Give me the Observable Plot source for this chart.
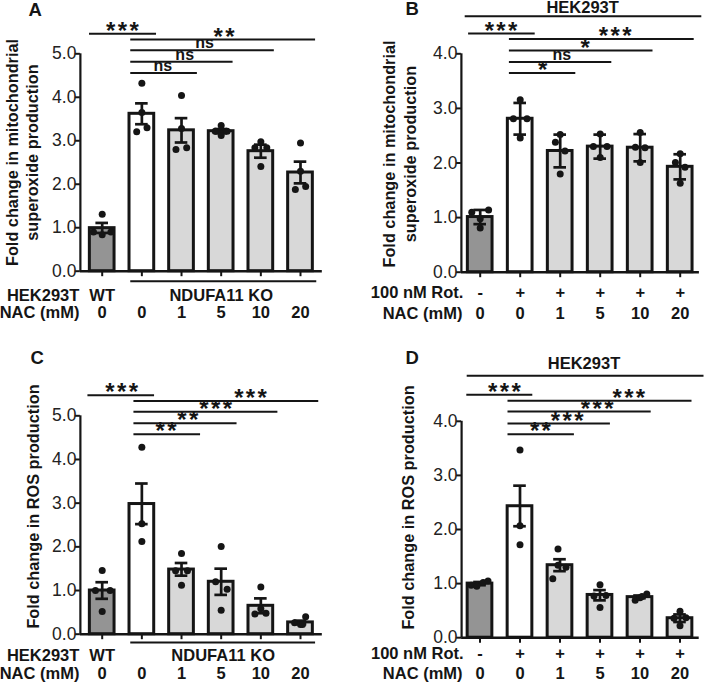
<!DOCTYPE html>
<html>
<head>
<meta charset="utf-8">
<script src="https://cdn.jsdelivr.net/npm/d3@7"></script>
<script src="https://cdn.jsdelivr.net/npm/@observablehq/plot@0.6"></script>
<style>
  body { margin: 0; background: #fff; }
  #fig { position: relative; width: 710px; height: 684px; overflow: hidden; background: #fff; }
  #fig > svg { position: absolute; }
</style>
</head>
<body>
<div id="fig"></div>
<script>
// ================= DATA =================
const nacDose   = ["0", "0", "1", "5", "10", "20"];
const genotype  = ["WT", "NDUFA11 KO"];
const rotenone  = ["-", "+", "+", "+", "+", "+"];
const ticksAC   = [0, 1, 2, 3, 4, 5];
const ticksBD   = [0, 1, 2, 3, 4];
const yLabelSup = "Fold change in mitochondrial\nsuperoxide production";
const yLabelRos = "Fold change in ROS production";
const cellLine  = "HEK293T";
const nacLabel  = "NAC (mM)";
const rotLabel  = "100 nM Rot.";

// A: mitochondrial superoxide, NDUFA11 KO + NAC
const supKO_mean = [0.99, 3.62, 3.24, 3.22, 2.76, 2.27];
const supKO_low  = [0.88, 3.38, 2.96, 3.17, 2.61, 2.02];
const supKO_high = [1.11, 3.86, 3.52, 3.27, 2.91, 2.52];
const supKO_pts  = [[1.31, 0.90, 0.84, 0.90], [4.32, 3.21, 3.30, 3.65], [4.04, 2.80, 2.84, 3.28],
                    [3.35, 3.22, 3.22, 3.12], [2.98, 2.84, 2.84, 2.41], [2.95, 1.88, 1.95, 2.30]];
const supKO_sig  = [[0, 1, "***"], [1, 5, "**"], [1, 4, "ns"], [1, 3, "ns"], [1, 2, "ns"]];

// B: mitochondrial superoxide, HEK293T + rotenone + NAC
const supRot_mean = [1.01, 2.81, 2.22, 2.30, 2.28, 1.93];
const supRot_low  = [0.88, 2.52, 1.92, 2.08, 2.03, 1.70];
const supRot_high = [1.14, 3.10, 2.52, 2.52, 2.53, 2.16];
const supRot_pts  = [[1.10, 1.14, 0.81, 0.98], [3.16, 2.81, 2.81, 2.46], [2.52, 2.38, 2.22, 1.80],
                     [2.53, 2.30, 2.30, 2.10], [2.56, 2.29, 2.28, 2.01], [2.17, 2.01, 1.92, 1.63]];
const supRot_sig  = [[0, 1, "***"], [1, 5, "***"], [1, 4, "*"], [1, 3, "ns"], [1, 2, "*"]];

// C: ROS, NDUFA11 KO + NAC
const rosKO_mean = [1.00, 2.98, 1.48, 1.20, 0.65, 0.27];
const rosKO_low  = [0.81, 2.52, 1.34, 0.90, 0.48, 0.23];
const rosKO_high = [1.19, 3.45, 1.63, 1.50, 0.82, 0.31];
const rosKO_pts  = [[1.46, 1.00, 1.00, 0.52], [4.28, 2.53, 2.12], [1.85, 1.45, 1.45, 1.12],
                    [2.01, 1.20, 1.03, 0.55], [1.08, 0.46, 0.48, 0.58], [0.40, 0.26, 0.22, 0.22]];
const rosKO_sig  = [[0, 1, "***"], [1, 5, "***"], [1, 4, "***"], [1, 3, "**"], [1, 2, "**"]];

// D: ROS, HEK293T + rotenone + NAC
const rosRot_mean = [1.00, 2.43, 1.34, 0.79, 0.75, 0.36];
const rosRot_low  = [0.97, 2.06, 1.23, 0.69, 0.73, 0.29];
const rosRot_high = [1.03, 2.81, 1.45, 0.88, 0.78, 0.43];
const rosRot_pts  = [[0.97, 0.95, 1.02, 1.05], [3.47, 2.07, 1.72], [1.64, 1.30, 1.34, 1.09],
                     [0.98, 0.77, 0.78, 0.56], [0.69, 0.81, 0.74, 0.76], [0.49, 0.22, 0.36, 0.37]];
const rosRot_sig  = [[0, 1, "***"], [1, 5, "***"], [1, 4, "***"], [1, 3, "***"], [1, 2, "**"]];

// ================= LAYOUT (positions / styles) =================
const W = 355, H = 342;
const DARK = "#949494", LIGHT = "#d8d8d8", WHITE = "#ffffff", INK = "#151515";
const FONT = "'Liberation Sans', Arial, Helvetica, sans-serif";
const LABEL_SIZE = 16.5;

const jitterA = [[0, -0.22, 0, 0.22], [0, -0.13, 0.13, 0], [0, -0.14, 0.13, 0], [0, -0.15, 0.15, 0], [0, -0.15, 0.15, 0], [0, -0.13, 0.13, 0]];
const jitterB = [[-0.21, 0.21, 0, 0], [0, -0.17, 0.17, 0], [0, -0.12, 0.12, 0], [0, -0.17, 0.17, 0], [0, -0.12, 0.12, 0], [0, -0.12, 0.12, 0]];
const jitterC = [[0, -0.17, 0.2, 0], [0, 0, 0], [0, -0.15, 0.15, 0], [0, -0.14, 0.15, 0], [0, -0.15, 0.13, 0], [0.13, -0.15, 0, 0.05]];
const jitterD = [[-0.22, -0.08, 0.08, 0.2], [0, 0, 0], [-0.05, 0.15, -0.05, -0.18], [0, -0.15, 0.15, 0], [-0.12, 0.17, 0, 0.05], [0, 0, -0.15, 0.15]];

const bracketsA = [{x1: -0.32, x2: 1.37, y: 5.46, lx: 0.51}, {x1: 0.72, x2: 5.38, y: 5.33, lx: 3.07},
                   {x1: 0.72, x2: 4.34, y: 5.08, lx: 2.58}, {x1: 0.72, x2: 3.30, y: 4.82, lx: 2.08},
                   {x1: 0.72, x2: 2.40, y: 4.56, lx: 1.53}];
const bracketsB = [{x1: -0.29, x2: 1.375, y: 4.37, lx: 0.52}, {x1: 0.73, x2: 5.35, y: 4.27, lx: 3.375},
                   {x1: 0.73, x2: 4.32, y: 4.06, lx: 2.625}, {x1: 0.73, x2: 3.29, y: 3.85, lx: 2.04},
                   {x1: 0.73, x2: 2.39, y: 3.65, lx: 1.56}];
const bracketsC = [{x1: -0.36, x2: 1.32, y: 5.47, lx: 0.49}, {x1: 0.80, x2: 5.46, y: 5.34, lx: 3.74},
                   {x1: 0.80, x2: 4.43, y: 5.09, lx: 2.86}, {x1: 0.80, x2: 3.40, y: 4.83, lx: 2.16},
                   {x1: 0.80, x2: 2.48, y: 4.58, lx: 1.61}];
const bracketsD = [{x1: -0.33, x2: 1.32, y: 4.49, lx: 0.61}, {x1: 0.70, x2: 5.30, y: 4.38, lx: 3.72},
                   {x1: 0.70, x2: 4.28, y: 4.18, lx: 2.93}, {x1: 0.70, x2: 3.26, y: 3.96, lx: 2.18},
                   {x1: 0.70, x2: 2.36, y: 3.76, lx: 1.51}];

const panels = [
  { title: "A", left: 0, top: 0, yLabel: yLabelSup, ticks: ticksAC, kind: "KO",
    mean: supKO_mean, low: supKO_low, high: supKO_high, pts: supKO_pts, sig: supKO_sig,
    jitter: jitterA, brackets: bracketsA,
    center0: 101.7, spacing: 39.66, zeroPx: 270.7, unit: 43.48, axisX: -0.55, axisEnd: 5.55,
    titleDx: 28, titleDy: 2, yTitleX: 21, yTitleY: 152, row1: 25, row2: 42,
    group: {x1: 0.72, x2: 5.41, dy: 10, lx: 3.0} },
  { title: "B", left: 355, top: 0, yLabel: yLabelSup, ticks: ticksBD, kind: "Rot",
    mean: supRot_mean, low: supRot_low, high: supRot_high, pts: supRot_pts, sig: supRot_sig,
    jitter: jitterB, brackets: bracketsB,
    center0: 124.7, spacing: 40, zeroPx: 271.7, unit: 54.6, axisX: -0.47, axisEnd: 5.48,
    titleDx: 50, titleDy: 1, yTitleX: 43.3, yTitleY: 153.5, row1: 21, row2: 41.6,
    header: {x1: -0.375, x2: 5.54, y: 4.69, ty: 4.84, lx: 2.56} },
  { title: "C", left: 0, top: 342, yLabel: yLabelRos, ticks: ticksAC, kind: "KO",
    mean: rosKO_mean, low: rosKO_low, high: rosKO_high, pts: rosKO_pts, sig: rosKO_sig,
    jitter: jitterC, brackets: bracketsC,
    center0: 101.7, spacing: 39.66, zeroPx: 291.7, unit: 43.68, axisX: -0.55, axisEnd: 5.55,
    titleDx: 30, titleDy: 8.5, yTitleX: 31.7, yTitleY: 164, row1: 21.6, row2: 40,
    group: {x1: 0.72, x2: 5.38, dy: 8.3, lx: 3.05} },
  { title: "D", left: 355, top: 342, yLabel: yLabelRos, ticks: ticksBD, kind: "Rot",
    mean: rosRot_mean, low: rosRot_low, high: rosRot_high, pts: rosRot_pts, sig: rosRot_sig,
    jitter: jitterD, brackets: bracketsD,
    center0: 124.5, spacing: 40, zeroPx: 295.2, unit: 54.1, axisX: -0.46, axisEnd: 5.48,
    titleDx: 50, titleDy: 8.5, yTitleX: 51.7, yTitleY: 165, row1: 16.5, row2: 36.5,
    header: {x1: -0.32, x2: 5.60, y: 4.84, ty: 5.06, lx: 2.6} }
];

function drawPanel(p) {
  const px2x = v => v / p.spacing;   // pixel length -> x units
  const px2y = v => v / p.unit;      // pixel length -> y units
  const rows = p.mean.map((m, i) => ({
    i, mean: m, lo: p.low[i], hi: p.high[i],
    fill: i === 0 ? DARK : i === 1 ? WHITE : LIGHT
  }));
  const pts = p.pts.flatMap((arr, i) => arr.map((v, k) => ({i, v, j: p.jitter[i][k]})));
  const sig = p.sig.map(([a, b, label], k) => ({a, b, label, ...p.brackets[k]}));
  const starGap = px2x(11.7);
  const stars = sig.filter(d => d.label !== "ns").flatMap(d => {
    const n = d.label.length;
    return d.label.split("").map((c, k) => ({c, x: d.lx + (k - (n - 1) / 2) * starGap, y: d.y}));
  });
  const ns = sig.filter(d => d.label === "ns");
  const hw = px2x(12.35), cap = px2x(6.3);
  const topTick = p.ticks[p.ticks.length - 1];
  const txt = {fill: INK, fontFamily: FONT};
  const bold = {fontSize: LABEL_SIZE, fontWeight: "bold", ...txt};

  const marks = [
    // bars
    Plot.rect(rows, {x1: d => d.i - hw, x2: d => d.i + hw, y1: 0, y2: "mean",
      fill: "fill", stroke: INK, strokeWidth: 3}),
    // error bars
    Plot.ruleX(rows, {x: "i", y1: "lo", y2: "hi", stroke: INK, strokeWidth: 2.7}),
    Plot.ruleY(rows, {y: "hi", x1: d => d.i - cap, x2: d => d.i + cap, stroke: INK, strokeWidth: 2.7}),
    Plot.ruleY(rows, {y: "lo", x1: d => d.i - cap, x2: d => d.i + cap, stroke: INK, strokeWidth: 2.7}),
    // individual points
    Plot.dot(pts, {x: d => d.i + d.j, y: "v", r: 3.5, fill: INK, stroke: "none"}),
    // y axis
    Plot.ruleX([p.axisX], {y1: 0, y2: topTick, stroke: INK, strokeWidth: 2.2}),
    Plot.ruleY(p.ticks, {y: d => d, x1: p.axisX - px2x(5), x2: p.axisX, stroke: INK, strokeWidth: 2}),
    Plot.text(p.ticks, {x: p.axisX, y: d => d, text: d => d.toFixed(1), textAnchor: "end",
      dx: -4, fontSize: 17.5, fill: "#222", fontFamily: FONT}),
    // x axis
    Plot.ruleY([0], {x1: p.axisX, x2: p.axisEnd, stroke: INK, strokeWidth: 2.4}),
    Plot.ruleX(rows, {x: "i", y1: 0, y2: -px2y(5.5), stroke: INK, strokeWidth: 2}),
    // significance brackets
    Plot.ruleY(sig, {y: "y", x1: "x1", x2: "x2", stroke: INK, strokeWidth: 2}),
    Plot.text(stars, {x: "x", y: "y", text: "c", fontSize: 24, fontWeight: "bold", dy: -2.5, ...txt}),
    Plot.text(ns, {x: "lx", y: "y", text: "label", fontSize: 16, fontWeight: "bold", dy: -7, ...txt}),
    // panel letter
    Plot.text([p.title], {frameAnchor: "top-left", dx: p.titleDx, dy: p.titleDy,
      fontSize: 18.5, fontWeight: "bold", ...txt}),
    // y-axis title
    Plot.text([p.yLabel], {frameAnchor: "top-left", dx: p.yTitleX, dy: p.yTitleY, rotate: -90,
      textAnchor: "middle", lineAnchor: "middle", lineHeight: 1.25, fontSize: 16.3, fontWeight: "bold", ...txt}),
    // row labels
    Plot.text([p.kind === "KO" ? cellLine : rotLabel], {x: p.axisX, y: 0, dy: p.row1, dx: p.kind === "KO" ? -1 : 2,
      textAnchor: "end", ...bold}),
    Plot.text([nacLabel], {x: p.axisX, y: 0, dy: p.row2, dx: p.kind === "KO" ? -1 : 1,
      textAnchor: "end", ...bold}),
    Plot.text(rows, {x: "i", y: 0, dy: p.row2, text: d => nacDose[d.i], ...bold})
  ];

  if (p.kind === "KO") {
    marks.push(
      Plot.text([genotype[0]], {x: 0, y: 0, dy: p.row1, ...bold}),
      Plot.text([genotype[1]], {x: p.group.lx, y: 0, dy: p.row1, ...bold}),
      Plot.ruleY([0], {x1: p.group.x1, x2: p.group.x2, dy: p.group.dy, stroke: INK, strokeWidth: 2})
    );
  } else {
    marks.push(
      Plot.text(rows, {x: "i", y: 0, dy: p.row1, text: d => rotenone[d.i], ...bold}),
      Plot.ruleY([p.header.y], {x1: p.header.x1, x2: p.header.x2, stroke: INK, strokeWidth: 2}),
      Plot.text([cellLine], {x: p.header.lx, y: p.header.ty, ...bold})
    );
  }

  const svg = Plot.plot({
    width: W, height: H,
    margin: 0,
    x: {type: "linear", domain: [-p.center0 / p.spacing, (W - p.center0) / p.spacing], range: [0, W], axis: null},
    y: {type: "linear", domain: [-(H - p.zeroPx) / p.unit, p.zeroPx / p.unit], range: [H, 0], axis: null},
    color: {type: "identity"},
    style: {fontFamily: FONT, fontSize: "16px", color: INK, background: "transparent", overflow: "hidden"},
    marks
  });
  svg.style.left = p.left + "px";
  svg.style.top = p.top + "px";
  document.getElementById("fig").appendChild(svg);
}

panels.forEach(drawPanel);
</script>
</body>
</html>
